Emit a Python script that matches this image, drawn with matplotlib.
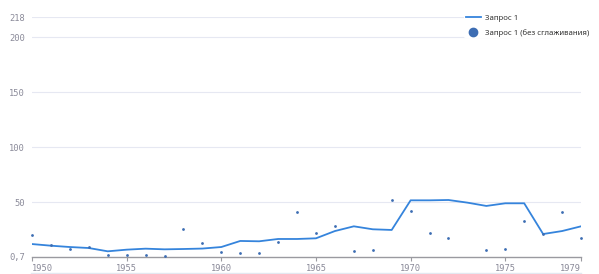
import numpy as np
import matplotlib.pyplot as plt
from matplotlib.lines import Line2D

years = list(range(1950, 1980))

# smoothed series
smooth = [12.1, 10.6, 9.4, 8.5, 5.5, 7.0, 7.9, 7.3, 7.6, 8.0,
          9.4, 14.9, 14.6, 16.7, 16.7, 17.3, 23.9, 28.2, 25.5, 24.9,
          51.8, 51.8, 52.1, 49.7, 46.7, 49.1, 49.1, 21.2, 23.9, 28.2]

# raw series (1973 is below the visible range)
raw = [20.3, 11.0, 7.9, 9.1, 2.2, 2.2, 2.2, 1.3, 25.5, 13.3,
       4.6, 3.7, 4.0, 13.7, 41.2, 22.1, 28.2, 5.5, 6.4, 52.1,
       42.1, 22.1, 17.9, np.nan, 6.7, 7.9, 32.8, 21.0, 40.9, 17.9]

y_ticks = [0.7, 50, 100, 150, 200, 218]
y_labels = ["0,7", "50", "100", "150", "200", "218"]
x_ticks = [1950, 1955, 1960, 1965, 1970, 1975, 1979]

line_color = "#3584dc"
dot_color = "#3d6db3"
label_color = "#8a8a99"

fig = plt.figure(figsize=(5.99, 2.74), dpi=100)
ax = fig.add_axes([32 / 599, 17.4 / 274, 549 / 599, 239.3 / 274])

ax.plot(years, smooth, color=line_color, lw=1.3, zorder=3)
ax.scatter(years, raw, s=4, color=dot_color, zorder=4, linewidths=0,
           clip_on=False)

ax.set_xlim(1950, 1979)
ax.set_ylim(0.7, 218)

for s in ["top", "right", "left"]:
    ax.spines[s].set_visible(False)
ax.spines["bottom"].set_color("#9a9aa0")
ax.spines["bottom"].set_linewidth(1)

ax.set_yticks(y_ticks)
ax.set_yticklabels(y_labels)
ax.tick_params(axis="y", length=0, pad=5, labelsize=6.3, labelcolor=label_color)
for lbl in ax.get_yticklabels():
    lbl.set_family("DejaVu Sans Mono")
for y in y_ticks[1:]:
    ax.axhline(y, color="#e6e8f2", lw=0.8, zorder=1)

ax.set_xticks(x_ticks)
ax.set_xticklabels([str(x) for x in x_ticks])
ax.tick_params(axis="x", length=3, width=0.8, color="#9a9aa0", pad=2,
               labelsize=6.3, labelcolor=label_color)
xl = ax.get_xticklabels()
for lbl in xl:
    lbl.set_family("DejaVu Sans Mono")
xl[0].set_horizontalalignment("left")
xl[-1].set_horizontalalignment("right")

# thin line under the axis labels
fig.add_artist(Line2D([31 / 599, 581 / 599], [1.5 / 274, 1.5 / 274],
                      color="#e3e8f0", lw=1))

handles = [
    Line2D([], [], color=line_color, lw=1.3),
    Line2D([], [], marker="o", ls="", color=dot_color, markersize=6),
]
leg = ax.legend(handles, ["Запрос 1", "Запрос 1 (без сглаживания)"],
                loc="upper left", bbox_to_anchor=(464 / 599, 261 / 274),
                bbox_transform=fig.transFigure, frameon=True,
                prop={"family": "Noto Sans", "size": 5.6},
                handlelength=2.0, handletextpad=0.55, labelspacing=0.9,
                borderpad=0.2, borderaxespad=0)
leg.get_frame().set_edgecolor("none")
leg.get_frame().set_facecolor("white")
leg.get_frame().set_alpha(1)
for t in leg.get_texts():
    t.set_color("#333333")

fig.savefig("out.png", dpi=100)
